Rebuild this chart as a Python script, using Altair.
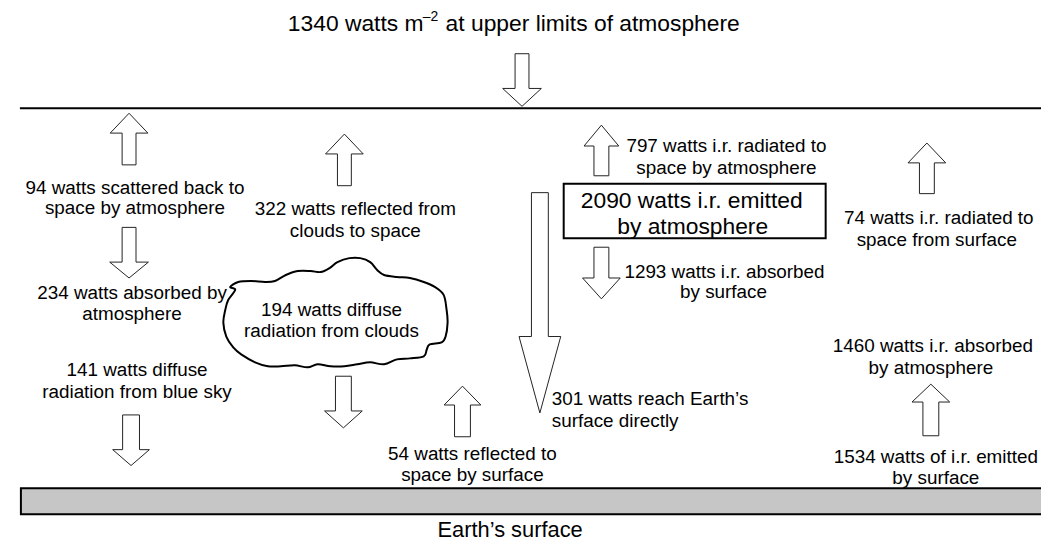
import altair as alt
import pandas as pd

# ---------------- text content ----------------
title_parts = ["1340 watts m", "–2", "at upper limits of atmosphere"]
title_x = [290, 426, 449]
title_y = [22, 15, 22]
title_size = [23, 14, 23]

label_text = [
    "94 watts scattered back to", "space by atmosphere",
    "234 watts absorbed by", "atmosphere",
    "141 watts diffuse", "radiation from blue sky",
    "322 watts reflected from", "clouds to space",
    "194 watts diffuse", "radiation from clouds",
    "54 watts reflected to", "space by surface",
    "797 watts i.r. radiated to", "space by atmosphere",
    "1293 watts i.r. absorbed", "by surface",
    "74 watts i.r. radiated to", "space from surface",
    "1460 watts i.r. absorbed", "by atmosphere",
    "1534 watts of i.r. emitted", "by surface",
    "2090 watts i.r. emitted", "by atmosphere",
    "Earth\u2019s  surface",
]
label_x = [136, 136, 133, 133, 138, 138, 358, 358, 334, 334, 476, 476,
           732, 732, 730, 729, 946, 944, 940, 938, 943, 943, 697, 698, 514]
label_y = [187, 208, 293, 314, 371, 393, 209, 231, 310, 331, 455, 477,
           145, 167, 272, 292, 218, 240, 347, 369, 458, 480, 200, 227, 532]
label_size = [19] * 22 + [23, 23, 22]

left_text = ["301 watts reach Earth\u2019s", "surface directly"]
left_x = [556, 556]
left_y = [400, 422]

# ---------------- block arrows ----------------
arrow_x = [526, 130, 130, 132, 347, 346, 466, 544, 606, 606, 934, 938]
arrow_tail = [52, 164, 227, 416, 185, 377, 438, 192, 175, 247, 193, 437]
arrow_headbase = [87, 132, 262, 451, 153, 412, 406, 337, 145, 278, 162, 403]
arrow_tip = [105, 112, 278, 467, 133, 429, 387, 414, 124, 299, 142, 385]
arrow_shaft_half = [7, 7, 7, 8.5, 7, 8, 8, 8.5, 7.5, 7.5, 7.5, 8]
arrow_head_half = [19.5, 19, 19.5, 18.5, 19, 19, 18.5, 21, 17.5, 19, 19, 19]

# ---------------- cloud outline ----------------
cloud_x = [232, 240, 253, 267, 277, 288, 300, 313, 323, 332, 340, 352, 363, 373,
           380, 387, 400, 413, 427, 438, 447, 450, 451, 449, 445, 433, 430, 427,
           413, 400, 387, 373, 360, 347, 333, 320, 310, 297, 283, 270, 257, 243,
           235, 228, 225, 227, 230, 237]
cloud_y = [287, 282, 281, 282, 281, 275, 271, 271, 272, 268, 262, 258, 258, 262,
           270, 275, 277, 278, 282, 287, 295, 310, 323, 337, 343, 345, 350, 357,
           359, 360, 365, 363, 365, 367, 367, 365, 368, 366, 367, 367, 363, 355,
           348, 337, 323, 310, 300, 290]

# ---------------- frames ----------------
top_line = {"x": 20, "x2": 1060, "y": 107}
earth = {"x": 21, "x2": 1060, "y": 490, "y2": 516}
box = {"x": 568, "x2": 832, "y": 183, "y2": 238}

# ---------------- build tables ----------------
rows = []
for i in range(len(arrow_x)):
    cx, t, hb, tp = arrow_x[i], arrow_tail[i], arrow_headbase[i], arrow_tip[i]
    sw, hw = arrow_shaft_half[i], arrow_head_half[i]
    pts = [(cx - sw, t), (cx + sw, t), (cx + sw, hb), (cx + hw, hb),
           (cx, tp), (cx - hw, hb), (cx - sw, hb)]
    for k, (px, py) in enumerate(pts):
        rows.append({"arrow": i, "k": k, "x": px, "y": py})
arrows_df = pd.DataFrame(rows)

cloud_df = pd.DataFrame({"x": cloud_x, "y": cloud_y, "k": list(range(len(cloud_x)))})
labels_df = pd.DataFrame({"text": label_text, "x": label_x, "y": label_y, "size": label_size})
left_df = pd.DataFrame({"text": left_text, "x": left_x, "y": left_y})
title_df = pd.DataFrame({"text": title_parts, "x": title_x, "y": title_y, "size": title_size})

W, H = 1041, 536
xs = alt.Scale(domain=[8, 8 + W], nice=False, zero=False)
ys = alt.Scale(domain=[8, 8 + H], nice=False, zero=False, reverse=True)
X = lambda f="x": alt.X(f"{f}:Q", scale=xs, axis=None)
Y = lambda f="y": alt.Y(f"{f}:Q", scale=ys, axis=None)

earth_layer = alt.Chart(pd.DataFrame([earth])).mark_rect(
    fill="#c6c6c6", stroke="black", strokeWidth=2
).encode(x=X(), x2="x2:Q", y=Y(), y2="y2:Q")

line_layer = alt.Chart(pd.DataFrame([top_line])).mark_rule(
    color="black", strokeWidth=2
).encode(x=X(), x2="x2:Q", y=Y())

arrow_layer = alt.Chart(arrows_df).mark_line(
    interpolate="linear-closed", color="#222222", strokeWidth=1
).encode(x=X(), y=Y(), detail="arrow:N", order="k:Q")

cloud_layer = alt.Chart(cloud_df).mark_line(
    interpolate="cardinal-closed", color="black", strokeWidth=2
).encode(x=X(), y=Y(), order="k:Q")

box_layer = alt.Chart(pd.DataFrame([box])).mark_rect(
    fill="white", stroke="black", strokeWidth=2
).encode(x=X(), x2="x2:Q", y=Y(), y2="y2:Q")

label_layer = alt.Chart(labels_df).mark_text(
    font="Liberation Sans", align="center", baseline="middle", color="black"
).encode(x=X(), y=Y(), text="text:N", size=alt.Size("size:Q", scale=None))

left_layer = alt.Chart(left_df).mark_text(
    font="Liberation Sans", align="left", baseline="middle", color="black", fontSize=19
).encode(x=X(), y=Y(), text="text:N")

title_layer = alt.Chart(title_df).mark_text(
    font="Liberation Sans", align="left", baseline="middle", color="black"
).encode(x=X(), y=Y(), text="text:N", size=alt.Size("size:Q", scale=None))

chart = alt.layer(
    earth_layer, line_layer, arrow_layer, cloud_layer, box_layer,
    label_layer, left_layer, title_layer
).properties(
    width=W, height=H, padding=0, autosize="none", background="white"
).configure_view(strokeWidth=0)

chart.save("out.html", embed_options={"renderer": "svg", "actions": False})
